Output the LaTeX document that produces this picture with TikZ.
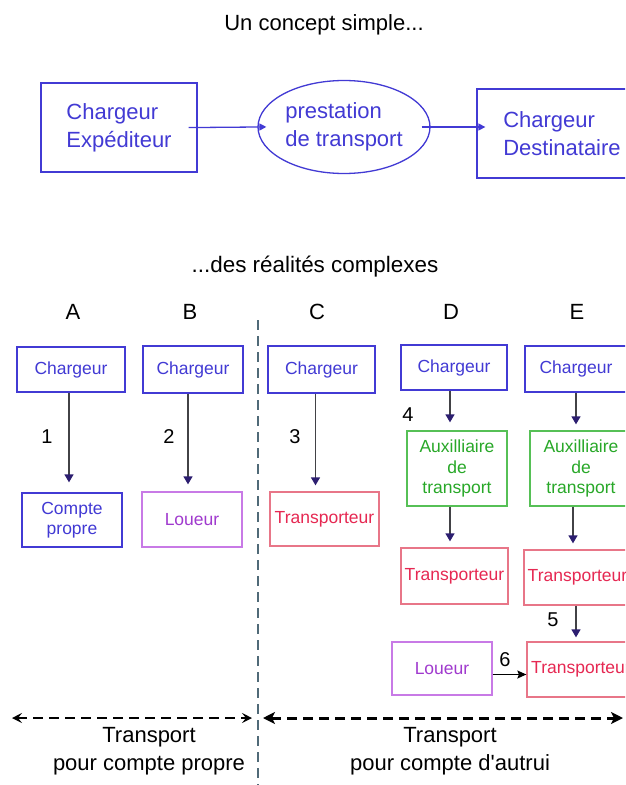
\documentclass[tikz,border=0pt]{standalone}
\usepackage{fontspec}
\setmainfont{Liberation Sans}
\usetikzlibrary{shapes.geometric,arrows.meta}
\definecolor{chblue}{RGB}{66,58,212}
\definecolor{trline}{RGB}{232,118,136}
\definecolor{trtext}{RGB}{230,40,82}
\definecolor{loline}{RGB}{200,122,230}
\definecolor{lotext}{RGB}{160,58,206}
\definecolor{auxline}{RGB}{86,192,86}
\definecolor{auxtext}{RGB}{40,168,40}
\definecolor{tipviolet}{RGB}{44,30,112}
\definecolor{shaftgray}{RGB}{66,66,70}
\definecolor{splitgray}{RGB}{80,106,120}
\tikzset{
    big-box/.style = {draw=chblue, text=chblue, line width=1.3pt, rectangle, inner sep=0pt, minimum height=89pt, align=left, font=\fontsize{22}{28}\selectfont},
    small-box/.style = {line width=1.3pt, rectangle, inner sep=0pt, align=center, font=\fontsize{17.5}{20.5}\selectfont},
    chargeur-box/.style = {small-box, draw=chblue, text=chblue},
    loueur-box/.style = {small-box, draw=loline, text=lotext},
    transp-box/.style = {small-box, draw=trline, text=trtext},
    aux-box/.style = {small-box, draw=auxline, text=auxtext},
    top-arrow/.style = {draw=chblue, line width=1.3pt, -{Triangle[width=7pt,length=7pt]}, shorten <=-9pt, shorten >=-9pt},
    down-arrow/.style = {draw=shaftgray, line width=1.3pt, -{Triangle[width=9pt,length=8pt,color=tipviolet]}, shorten >=6pt},
    step-num/.style = {font=\fontsize{20}{24}\selectfont},
    head-text/.style = {font=\fontsize{22}{28}\selectfont},
    span-arrow/.style = {dash pattern=on 10pt off 6pt, line width=2pt},
}
\begin{document}
\begin{tikzpicture}[x=1pt,y=-1pt]
\clip (0,0) rectangle (625,785);
\fill[white] (0,0) rectangle (625,785);

\node[head-text] (title) at (324,25) {Un concept simple...};
\node[big-box, minimum width=156pt] (expediteur) at (119,127.5) {Chargeur\\Expéditeur};
\node[ellipse, draw=chblue, text=chblue, line width=1.3pt, inner sep=0pt, minimum width=172pt, minimum height=93pt, align=left, font=\fontsize{22}{28}\selectfont] (prestation) at (344,127) {prestation\\de transport};
\node[big-box, minimum width=170pt] (destinataire) at (562,133.5) {Chargeur\\Destinataire};
\draw[top-arrow] (expediteur.east) -- (prestation.west);
\draw[top-arrow] (prestation.east) -- (prestation.east -| destinataire.west);

\node[head-text, font=\fontsize{22.4}{28}\selectfont] (subtitle) at (315,267) {...des réalités complexes};
\node[head-text] (colA) at (73,312) {A};
\node[head-text] (colB) at (190,312) {B};
\node[head-text] (colC) at (317,312) {C};
\node[head-text] (colD) at (451,312) {D};
\node[head-text] (colE) at (577,312) {E};

\coordinate (split-top) at (258,320);
\coordinate (split-bot) at (258,785);
\draw[splitgray, line width=1.2pt, dash pattern=on 10pt off 6pt] (split-top) -- (split-bot);

\node[chargeur-box, minimum width=108pt, minimum height=45pt] (chgA) at (71,369.5) {Chargeur};
\node[chargeur-box, minimum width=100pt, minimum height=54pt] (compteA) at (72,520) {Compte\\propre};
\node[chargeur-box, minimum width=100pt, minimum height=47pt] (chgB) at (193,369.5) {Chargeur};
\node[loueur-box, minimum width=100pt, minimum height=55pt] (loueurB) at (192,519.5) {Loueur};
\node[chargeur-box, minimum width=107pt, minimum height=47pt] (chgC) at (321.5,369.5) {Chargeur};
\node[transp-box, minimum width=109pt, minimum height=54pt] (transC) at (324.5,519) {Transporteur};

\node[chargeur-box, minimum width=106pt, minimum height=45pt] (chgD) at (454,367.5) {Chargeur};
\node[aux-box, minimum width=100pt, minimum height=75pt] (auxD) at (457,468.5) {Auxilliaire\\de\\transport};
\node[transp-box, minimum width=107pt, minimum height=56pt] (transD) at (454.5,576) {Transporteur};
\node[loueur-box, minimum width=100pt, minimum height=53pt] (loueurD) at (442,668.5) {Loueur};

\node[chargeur-box, minimum width=102pt, minimum height=46pt] (chgE) at (576,369) {Chargeur};
\node[aux-box, minimum width=102pt, minimum height=75pt] (auxE) at (581,468.5) {Auxilliaire\\de\\transport};
\node[transp-box, minimum width=107pt, minimum height=55pt] (transE) at (577.5,577.5) {Transporteur};
\node[transp-box, minimum width=108pt, minimum height=55pt] (transF) at (581,669.5) {Transporteur};

\draw[down-arrow, shorten >=10pt] ([xshift=-2pt]chgA.south) -- ([xshift=-2pt]chgA.south |- compteA.north);
\draw[down-arrow, shorten >=7pt] ([xshift=-5pt]chgB.south) -- ([xshift=-5pt]chgB.south |- loueurB.north);
\draw[down-arrow] ([xshift=-6pt]chgC.south) -- ([xshift=-6pt]chgC.south |- transC.north);
\draw[down-arrow, shorten >=8pt] ([xshift=-4pt]chgD.south) -- ([xshift=-4pt]chgD.south |- auxD.north);
\draw[down-arrow] ([xshift=-4pt]chgD.south |- auxD.south) -- ([xshift=-4pt]chgD.south |- transD.north);
\draw[down-arrow] (chgE.south) -- (chgE.south |- auxE.north);
\draw[down-arrow] ([xshift=-3pt]chgE.south |- auxE.south) -- ([xshift=-3pt]chgE.south |- transE.north);
\draw[down-arrow, shorten >=4pt] (chgE.south |- transE.south) -- (chgE.south |- transF.north);
\draw[black, line width=1.3pt, -{Stealth[length=9pt,width=8pt,inset=1.5pt]}] ([yshift=-6pt]loueurD.east) -- ([yshift=-6pt]loueurD.east -| transF.west);

\node[step-num] (num1) at (47,437) {1};
\node[step-num] (num2) at (169,437) {2};
\node[step-num] (num3) at (295,437) {3};
\node[step-num] (num4) at (408,415) {4};
\node[step-num] (num5) at (553,620) {5};
\node[step-num] (num6) at (505,660) {6};

\coordinate (propre-l) at (12,718);
\coordinate (propre-r) at (252,718);
\coordinate (autrui-l) at (263,718);
\coordinate (autrui-r) at (623,718);
\draw[span-arrow, {Stealth[length=10pt,width=10pt,inset=4pt]}-{Stealth[length=10pt,width=10pt,inset=4pt]}] (propre-l) -- (propre-r);
\draw[span-arrow, line width=3pt, {Stealth[length=12pt,width=12pt,inset=3pt]}-{Stealth[length=12pt,width=12pt,inset=3pt]}] (autrui-l) -- (autrui-r);
\node[head-text, align=center] (propre) at (149,751) {Transport\\pour compte propre};
\node[head-text, align=center] (autrui) at (450,751) {Transport\\pour compte d\textquotesingle autrui};
\end{tikzpicture}
\end{document}
